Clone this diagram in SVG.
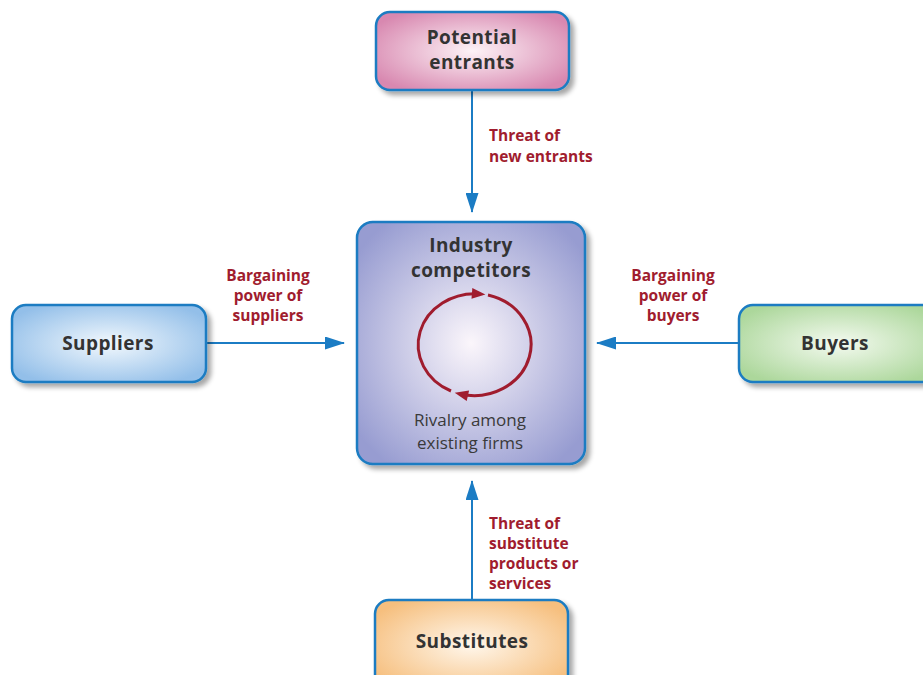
<svg xmlns="http://www.w3.org/2000/svg" width="923" height="675" viewBox="0 0 923 675">
<defs>
<radialGradient id="gPink" cx="50%" cy="50%" r="60%"><stop offset="0" stop-color="#fdf3f7"/><stop offset="1" stop-color="#d888b0"/></radialGradient>
<radialGradient id="gLav" cx="50%" cy="50%" r="62%"><stop offset="0" stop-color="#fbf6fb"/><stop offset="1" stop-color="#979cd1"/></radialGradient>
<radialGradient id="gBlue" cx="50%" cy="50%" r="60%"><stop offset="0" stop-color="#f2f8fd"/><stop offset="1" stop-color="#93bfe9"/></radialGradient>
<radialGradient id="gGreen" cx="50%" cy="50%" r="60%"><stop offset="0" stop-color="#f4faf0"/><stop offset="1" stop-color="#acd79b"/></radialGradient>
<radialGradient id="gOrange" cx="50%" cy="50%" r="60%"><stop offset="0" stop-color="#fff7ec"/><stop offset="1" stop-color="#f6bf7e"/></radialGradient>
<filter id="sh" x="-10%" y="-10%" width="130%" height="130%"><feGaussianBlur in="SourceAlpha" stdDeviation="2.5"/><feOffset dx="4" dy="4"/><feComponentTransfer><feFuncA type="linear" slope="0.35"/></feComponentTransfer><feMerge><feMergeNode/><feMergeNode in="SourceGraphic"/></feMerge></filter>
<marker id="ah" viewBox="0 0 20 13" refX="19" refY="6.5" markerWidth="10" markerHeight="6.5" orient="auto" markerUnits="strokeWidth"><path d="M0,0 L20,6.5 L0,13 z" fill="#1b7cc4"/></marker>
<marker id="rh" viewBox="0 0 10 10" refX="6" refY="5" markerWidth="5" markerHeight="4.5" orient="auto" markerUnits="strokeWidth"><path d="M0,1 L10,5 L0,9 z" fill="#a01c2e"/></marker>
</defs>
<style>
.box{stroke:#1a7cc2;stroke-width:2.5;filter:url(#sh)}
.nt{font-family:"Open Sans","DejaVu Sans",sans-serif;font-weight:bold;font-size:19px;letter-spacing:0.4px;fill:#333;text-anchor:middle}
.st{font-family:"Open Sans","DejaVu Sans",sans-serif;font-size:17px;fill:#3a3a3a;text-anchor:middle}
.lb{font-family:"Open Sans","DejaVu Sans",sans-serif;font-weight:bold;font-size:15.5px;fill:#a01c2e}
.ln{stroke:#1b7cc4;stroke-width:2;fill:none;marker-end:url(#ah)}
</style>
<rect width="923" height="675" fill="#fff"/>
<g id="connectors">
<line class="ln" x1="472" y1="91" x2="472" y2="212"/>
<line class="ln" x1="207" y1="343" x2="344" y2="343"/>
<line class="ln" x1="738" y1="343" x2="597" y2="343"/>
<line class="ln" x1="472" y1="599" x2="472" y2="481"/>
<text class="lb" x="489" y="141">Threat of</text>
<text class="lb" x="489" y="162">new entrants</text>
<text class="lb" x="268" y="281" text-anchor="middle">Bargaining</text>
<text class="lb" x="268" y="301" text-anchor="middle">power of</text>
<text class="lb" x="268" y="321" text-anchor="middle">suppliers</text>
<text class="lb" x="673" y="281" text-anchor="middle">Bargaining</text>
<text class="lb" x="673" y="301" text-anchor="middle">power of</text>
<text class="lb" x="673" y="321" text-anchor="middle">buyers</text>
<text class="lb" x="489" y="529">Threat of</text>
<text class="lb" x="489" y="549">substitute</text>
<text class="lb" x="489" y="569">products or</text>
<text class="lb" x="489" y="589">services</text>
</g>
<g id="potential-entrants">
<rect class="box" x="376" y="12" width="193" height="78" rx="14" fill="url(#gPink)"/>
<text class="nt" x="472" y="44">Potential</text>
<text class="nt" x="472" y="69">entrants</text>
</g>
<g id="industry-competitors">
<rect class="box" x="357" y="222" width="228" height="242" rx="16" fill="url(#gLav)"/>
<text class="nt" x="471" y="252">Industry</text>
<text class="nt" x="471" y="277">competitors</text>
<path d="M451,391 A57,51 0 0 1 480,294" fill="none" stroke="#a01c2e" stroke-width="3" marker-end="url(#rh)"/>
<path d="M488,295 A57,51 0 0 1 460,394" fill="none" stroke="#a01c2e" stroke-width="3" marker-end="url(#rh)"/>
<text class="st" x="470" y="426">Rivalry among</text>
<text class="st" x="470" y="449">existing firms</text>
</g>
<g id="suppliers">
<rect class="box" x="12" y="305" width="194" height="77" rx="14" fill="url(#gBlue)"/>
<text class="nt" x="108" y="350">Suppliers</text>
</g>
<g id="buyers">
<rect class="box" x="739" y="305" width="200" height="77" rx="14" fill="url(#gGreen)"/>
<text class="nt" x="835" y="350">Buyers</text>
</g>
<g id="substitutes">
<rect class="box" x="375" y="600" width="193" height="90" rx="14" fill="url(#gOrange)"/>
<text class="nt" x="472" y="648">Substitutes</text>
</g>
</svg>
